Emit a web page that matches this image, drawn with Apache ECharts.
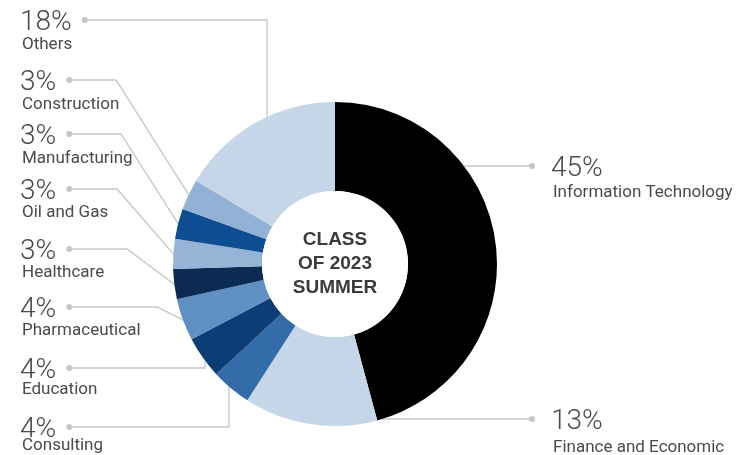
<!DOCTYPE html>
<html>
<head>
<meta charset="utf-8">
<script src="https://cdn.jsdelivr.net/npm/echarts@6/dist/echarts.min.js"></script>
<style>
  html, body { margin: 0; padding: 0; background: #fff; }
  #main { width: 739px; height: 455px; }
</style>
</head>
<body>
<div id="main"></div>
<script>
// slice order is clockwise from 12 o'clock
const categories = ['Information Technology', 'Finance and Economic', 'Consulting', 'Education',
  'Pharmaceutical', 'Healthcare', 'Oil and Gas', 'Manufacturing', 'Construction', 'Others'];
// shares
const shares = [45.8, 13.3, 4.0, 4.2, 4.2, 3.0, 3.0, 3.0, 3.1, 16.4];
// percentages printed next to each slice
const printedPct = ['45%', '13%', '4%', '4%', '4%', '3%', '3%', '3%', '3%', '18%'];
const centerLines = ['CLASS', 'OF 2023', 'SUMMER'];

const colors = ['#000000', '#c5d6e9', '#336ca8', '#0d3d75', '#5f8fc3',
  '#0b2b52', '#95b4d6', '#0f4d93', '#92b2d5', '#c5d6e9'];

const CX = 335, CY = 264, R_IN = 73, R_OUT = 162;
const LINE_COLOR = '#c6c6c6';
const TEXT_COLOR = '#4a4a4a';
const PCT_FONT = { size: 28, weight: 300, family: 'Roboto' };
const NAME_FONT = { size: 17, weight: 400, family: 'Roboto' };

// where each callout sits: side, y of the dot, x of the elbow, how the line meets the ring,
// and how far below the dot the name sits
const spots = [
  { side: 'right', y: 166, mode: 'h', gap: 25 },
  { side: 'right', y: 419, mode: 'h', gap: 27 },
  { side: 'left', y: 427, elbow: 229, mode: 'v', gap: 16.5 },
  { side: 'left', y: 368, elbow: 205, mode: 'v', gap: 20 },
  { side: 'left', y: 307, elbow: 157, mode: 'd', gap: 22 },
  { side: 'left', y: 249, elbow: 127, mode: 'd', gap: 22 },
  { side: 'left', y: 189, elbow: 117, mode: 'd', gap: 22 },
  { side: 'left', y: 134, elbow: 121, mode: 'd', gap: 23 },
  { side: 'left', y: 80, elbow: 116, mode: 'd', gap: 22.5 },
  { side: 'left', y: 20, elbow: 267, mode: 'v', gap: 22.5 }
];
const LEFT_X = 20, RIGHT_DOT_X = 532, RIGHT_TEXT_X = 551, DOT_GAP = 10, DOT = 6;
const PCT_LINE = 20, PCT_PAD = 6;

let ctx = document.createElement('canvas').getContext('2d');
function textWidth(str, f) {
  ctx.font = f.weight + ' ' + f.size + 'px ' + f.family;
  return ctx.measureText(str).width;
}

function makeRich(i) {
  const s = spots[i];
  return {
    pct: { fontSize: PCT_FONT.size, fontWeight: PCT_FONT.weight, fontFamily: PCT_FONT.family,
      color: TEXT_COLOR, lineHeight: PCT_LINE, padding: [PCT_PAD, 0, 0, 0] },
    name: { fontSize: NAME_FONT.size, fontWeight: NAME_FONT.weight, fontFamily: NAME_FONT.family,
      color: TEXT_COLOR, lineHeight: (s.gap - PCT_LINE / 2 + 2) * 2,
      padding: s.side === 'right' ? [0, 0, 0, RIGHT_TEXT_X - RIGHT_DOT_X + DOT / 2 + 2] : [0, 0, 0, 2] },
    sp: { width: s.side === 'right' ? RIGHT_TEXT_X - RIGHT_DOT_X - DOT / 2 : DOT_GAP, height: 2 },
    dot: { width: DOT, height: DOT, borderRadius: DOT / 2, backgroundColor: LINE_COLOR }
  };
}

const pieData = categories.map(function (c, i) {
  return {
    name: c,
    value: shares[i],
    itemStyle: { color: colors[i] },
    label: {
      rich: makeRich(i),
      formatter: spots[i].side === 'right'
        ? '{dot|}{sp|}{pct|' + printedPct[i] + '}\n{name|' + c + '}'
        : '{pct|' + printedPct[i] + '}{sp|}{dot|}\n{name|' + c + '}'
    }
  };
});

function ringPointAtX(x, below) {
  const dy = Math.sqrt(Math.max(0, R_OUT * R_OUT - (x - CX) * (x - CX)));
  return [x, below ? CY + dy : CY - dy];
}
function ringPointAtY(y, left) {
  const dx = Math.sqrt(Math.max(0, R_OUT * R_OUT - (y - CY) * (y - CY)));
  return [left ? CX - dx : CX + dx, y];
}

let chartDom = document.getElementById('main');
let myChart = echarts.init(chartDom, null, { renderer: 'canvas' });

let option = {
  animation: false,
  backgroundColor: '#ffffff',
  series: [
    {
      type: 'pie',
      center: [CX, CY],
      radius: [R_IN, R_OUT],
      startAngle: 90,
      clockwise: true,
      avoidLabelOverlap: false,
      minShowLabelAngle: 0,
      emphasis: { disabled: true },
      itemStyle: { borderWidth: 0 },
      label: { show: true, position: 'outside' },
      labelLine: {
        show: true,
        length: 10,
        length2: 10,
        smooth: false,
        lineStyle: { color: LINE_COLOR, width: 1.3 }
      },
      labelLayout: function (params) {
        const i = params.dataIndex;
        const s = spots[i];
        const top = s.y - PCT_LINE / 2;
        if (s.side === 'right') {
          const start = ringPointAtY(s.y, false);
          return {
            x: RIGHT_DOT_X - DOT / 2, y: top, align: 'left', verticalAlign: 'top',
            labelLinePoints: [start, [(start[0] + RIGHT_DOT_X) / 2, s.y], [RIGHT_DOT_X - DOT / 2, s.y]]
          };
        }
        const dotX = LEFT_X + textWidth(printedPct[i], PCT_FONT) + DOT_GAP + DOT / 2;
        let start;
        if (s.mode === 'v') {
          start = ringPointAtX(s.elbow, s.y > CY);
        } else {
          start = params.labelLinePoints ? params.labelLinePoints[0] : ringPointAtY(s.y, true);
        }
        return {
          x: LEFT_X, y: top, align: 'left', verticalAlign: 'top',
          labelLinePoints: [start, [s.elbow, s.y], [dotX + DOT / 2, s.y]]
        };
      },
      data: pieData
    },
    {
      type: 'pie',
      center: [CX, CY],
      radius: [0, R_IN],
      silent: true,
      emphasis: { disabled: true },
      itemStyle: { color: '#ffffff' },
      labelLine: { show: false },
      label: {
        show: true,
        position: 'center',
        formatter: centerLines.join('\n'),
        fontFamily: 'Liberation Sans',
        fontWeight: 'bold',
        fontSize: 19,
        lineHeight: 24,
        color: '#3b3b3b'
      },
      data: [{ name: centerLines.join(' '), value: 1 }]
    }
  ]
};

myChart.setOption(option);
</script>
</body>
</html>
